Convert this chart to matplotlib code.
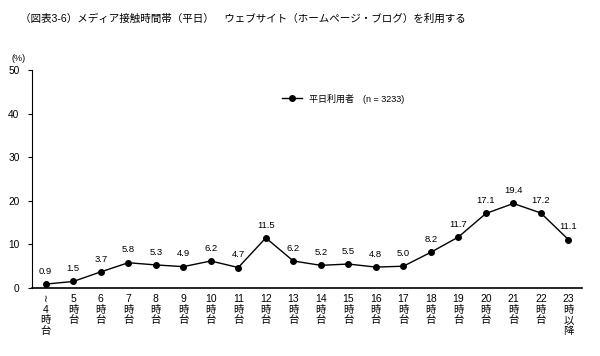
import matplotlib.pyplot as plt
import numpy as np

plt.rcParams['font.family'] = ['Liberation Sans', 'Noto Sans CJK JP', 'DejaVu Sans']

hours = ["≀\n4\n時\n台"] + [f"{h}\n時\n台" for h in range(5, 23)] + ["23\n時\n以\n降"]
values = [0.9, 1.5, 3.7, 5.8, 5.3, 4.9, 6.2, 4.7, 11.5, 6.2,
          5.2, 5.5, 4.8, 5.0, 8.2, 11.7, 17.1, 19.4, 17.2, 11.1]
series_name = "平日利用者　(n = 3233)"
title = "（図表3-6）メディア接触時間帯（平日）　ウェブサイト（ホームページ・ブログ）を利用する"

fig = plt.figure(figsize=(6.0, 3.56), dpi=100)
ax = fig.add_axes([0.0533, 0.191, 0.917, 0.612])

x = np.arange(len(values))
ax.plot(x, values, color="black", linewidth=1.0, marker="o", markersize=4,
        label=series_name)

for xi, v in zip(x, values):
    ax.annotate(f"{v:.1f}", (xi, v), xytext=(0, 6), textcoords="offset points",
                ha="center", va="bottom", fontsize=6.8)

ax.set_xlim(-0.5, len(values) - 0.5)
ax.set_ylim(0, 50)
ax.set_yticks([0, 10, 20, 30, 40, 50])
ax.tick_params(axis="y", labelsize=7.3, length=3, width=0.8, direction="out", pad=6)
ax.set_xticks(x)
ax.set_xticklabels(hours, fontsize=7.5, linespacing=1.12, va="top")
ax.tick_params(axis="x", length=0, pad=4)

for side in ("top", "right"):
    ax.spines[side].set_visible(False)
ax.spines["left"].set_linewidth(0.8)
ax.spines["bottom"].set_linewidth(1.2)

ax.legend(loc="upper left", bbox_to_anchor=(0.44, 0.93), frameon=False,
          fontsize=6.5, handlelength=2.2)

fig.text(0.02, 0.83, "(%)", fontsize=6.5)
fig.text(0.033, 0.938, title, fontsize=7.6)

fig.savefig("out.png", dpi=100)
